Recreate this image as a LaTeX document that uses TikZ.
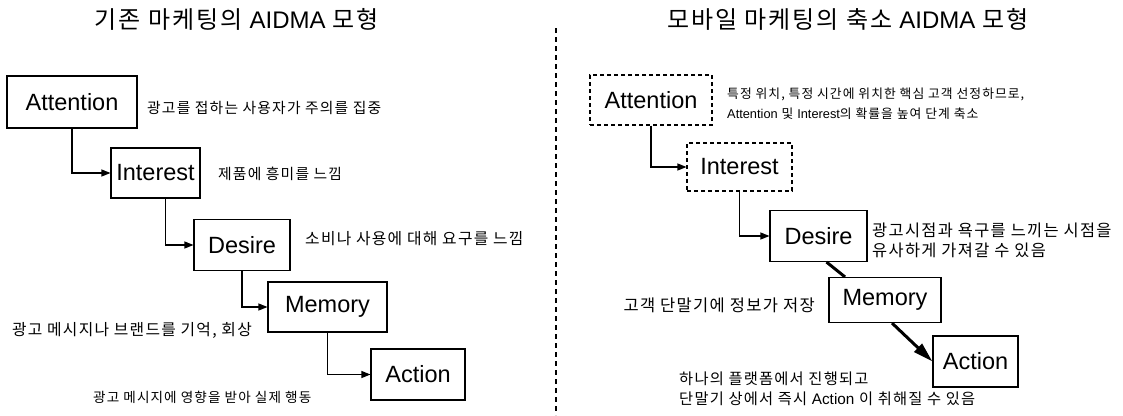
\documentclass[tikz,border=0pt]{standalone}
\usepackage{fontspec}
\setmainfont{Liberation Sans}
\newfontfamily\kr[LetterSpace=8]{Noto Sans CJK KR}
\usetikzlibrary{arrows.meta}
\newcommand\ksize[1]{\kr\fontsize{#1}{20}\selectfont}
\newcommand\lat[1]{{\rmfamily #1}}
\tikzset{
>={Triangle[length=9pt,width=7pt]},
  stage/.style={
    rectangle,
    draw=black, line width=1.1pt,
    minimum height=50pt,
    inner sep=0pt,
    font=\fontsize{23.5}{26}\selectfont},
  stagedash/.style={stage, dash pattern=on 4pt off 3pt},
  line/.style={draw, line width=1.1pt, ->},
  bigline/.style={draw, line width=3pt},
  note/.style={align=left, inner sep=0pt},
  heading/.style={font=\ksize{24}, inner sep=0pt},
}
\begin{document}
\begin{tikzpicture}[x=1pt,y=-1pt]
  \useasboundingbox (0,0) rectangle (1123,415);
     % left: classic AIDMA
     \node[heading] (old-title) at (237,19) {기존 마케팅의 \lat{AIDMA} 모형};
     \node[stage, minimum width=130pt, minimum height=52pt] (old-attention) at (72,102) {Attention};
     \node[stage, minimum width=89pt] (old-interest) at (155.5,173) {Interest};
     \node[stage, minimum width=96pt, minimum height=51pt] (old-desire) at (242,245) {Desire};
     \node[stage, minimum width=119pt] (old-memory) at (327.5,307) {Memory};
     \node[stage, minimum width=94pt, minimum height=51pt] (old-action) at (418,374.5) {Action};
     \node[note, font=\ksize{14.8}, anchor=west] (old-attention-note) at (147,108) {광고를 접하는 사용자가 주의를 집중};
     \node[note, font=\ksize{14.8}, anchor=west] (old-interest-note) at (218,174) {제품에 흥미를 느낌};
     \node[note, font=\ksize{15.8}, anchor=west] (old-desire-note) at (305,239) {소비나 사용에 대해 요구를 느낌};
     \node[note, font=\ksize{15.8}, anchor=east] (old-memory-note) at (252,330) {광고 메시지나 브랜드를 기억, 회상};
     \node[note, font=\ksize{13.6}, anchor=west] (old-action-note) at (93,397) {광고 메시지에 영향을 받아 실제 행동};
     \draw[line] (old-attention.south) |- (old-interest.west);
     \draw[line] ([xshift=10pt]old-interest.south) |- (old-desire.west);
     \draw[line] (old-desire.south) |- (old-memory.west);
     \draw[line] (old-memory.south) |- (old-action.west);
     % divider
     \draw[line width=1.1pt, dash pattern=on 5pt off 4pt] (556,28) -- (556,415);
     % right: mobile AIDMA
     \node[heading] (mob-title) at (848,19) {모바일 마케팅의 축소 \lat{AIDMA} 모형};
     \node[stagedash, minimum width=122pt] (mob-attention) at (651,100) {Attention};
     \node[stagedash, minimum width=105pt, minimum height=48pt] (mob-interest) at (739.5,167) {Interest};
     \node[stage, minimum width=97pt, minimum height=51pt] (mob-desire) at (818.5,236) {Desire};
     \node[stage, minimum width=112pt, minimum height=45pt] (mob-memory) at (885,300) {Memory};
     \node[stage, minimum width=85pt, minimum height=51pt] (mob-action) at (975.5,361.5) {Action};
     \node[note, font=\ksize{12.8}, anchor=west] (mob-attention-note) at (727,104) {특정 위치, 특정 시간에 위치한 핵심 고객 선정하므로,\\\lat{Attention} 및 \lat{Interest}의 확률을 높여 단계 축소};
     \node[note, font=\ksize{16.4}, anchor=west] (mob-desire-note) at (872,240) {광고시점과 욕구를 느끼는 시점을\\유사하게 가져갈 수 있음};
     \node[note, font=\ksize{16.5}, anchor=east] (mob-memory-note) at (815,305) {고객 단말기에 정보가 저장};
     \node[note, font=\ksize{15.3}, anchor=west] (mob-action-note) at (679,389) {하나의 플랫폼에서 진행되고\\단말기 상에서 즉시 \lat{Action} 이 취해질 수 있음};
     \draw[line] (mob-attention.south) |- (mob-interest.west);
     \draw[line] (mob-interest.south) |- (mob-desire.west);
     \draw[bigline] ([xshift=8pt]mob-desire.south) -- ([xshift=-40pt]mob-memory.north);
     \draw[bigline, -{Triangle[length=20pt,width=11pt]}] ([xshift=7pt]mob-memory.south) -- (mob-action.west);
\end{tikzpicture}
\end{document}
